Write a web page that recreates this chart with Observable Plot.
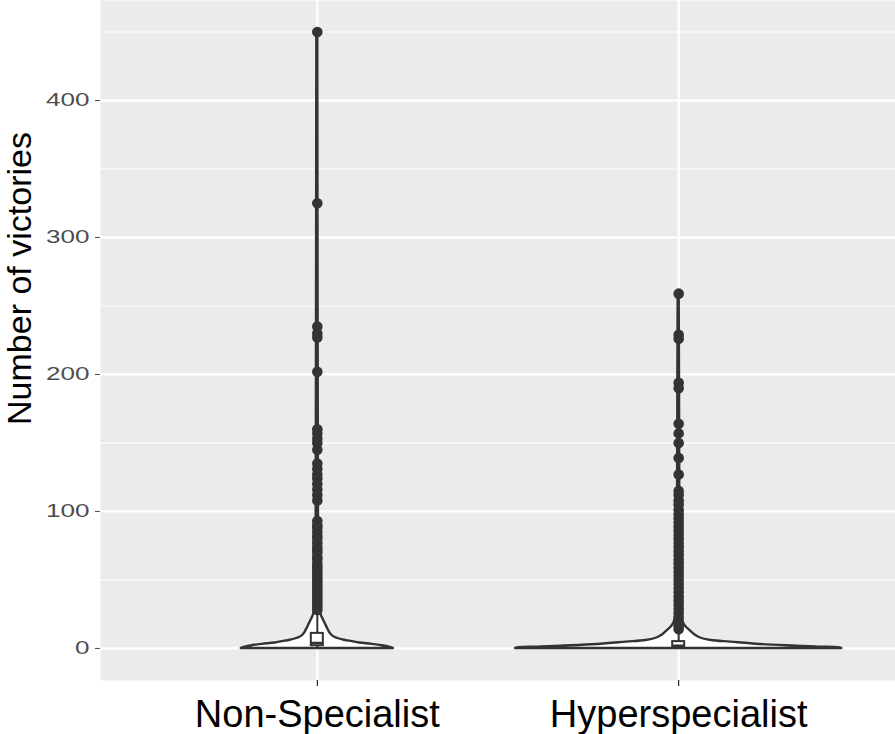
<!DOCTYPE html>
<html><head><meta charset="utf-8">
<script src="https://cdn.jsdelivr.net/npm/d3@7"></script>
<script src="https://cdn.jsdelivr.net/npm/@observablehq/plot@0.6"></script>
<style>body{margin:0;background:#fff}</style>
</head><body><div id="chart"></div>
<script>
const categories = ["Non-Specialist", "Hyperspecialist"];
const yTicks = [0, 100, 200, 300, 400];
const yMinor = [50, 150, 250, 350, 450];
const yTitle = "Number of victories";

// violin outlines (value, relative density)
const nsViolinValue = [0, 1, 2, 3, 4, 5, 6, 8, 10, 12, 15, 18, 21, 24, 28, 35, 50, 100, 200, 300, 450];
const nsViolinDensity = [0.466, 0.442, 0.399, 0.337, 0.258, 0.215, 0.166, 0.110, 0.086, 0.074, 0.061, 0.049, 0.037, 0.025, 0.018, 0.012, 0.009, 0.007, 0.0055, 0.0043, 0.003];
const hsViolinValue = [0, 0.5, 1, 1.7, 2.9, 4.6, 5.8, 7.8, 10, 13, 16, 20, 25, 35, 60, 100, 200, 260];
const hsViolinDensity = [1, 0.98, 0.86, 0.72, 0.5, 0.32, 0.2, 0.13, 0.098, 0.07, 0.043, 0.025, 0.018, 0.012, 0.009, 0.007, 0.005, 0.003];

// boxplot statistics per category
const boxQ1 = [2, 1];
const boxMedian = [4, 2];
const boxQ3 = [11, 5];
const whiskerLow = [0, 0];
const whiskerHigh = [24, 11];

// outliers
const nsOutliers = [450, 325, 235, 230, 227, 202, 160, 157, 153, 150, 145, 135, 131, 127, 124, 120, 116, 112, 108,
  93, 90, 88, 85, 82, 80, 77, 74, 72, 70, 67, 65, 62, 60, 58, 56, 54, 52, 50, 48, 46, 44, 42, 40, 38, 36, 34, 32, 30, 28];
const hsOutliers = [259, 229, 226, 194, 190, 164, 157, 150, 139, 127, 115, 112, 108, 105, 101, 98, 95, 92, 89, 86, 83,
  80, 77, 74, 71, 68, 65, 62, 59, 56, 53, 50, 47, 44, 41, 38, 35, 32, 29, 26, 23, 20, 18, 16, 14];

const violin = [
  ...nsViolinValue.map((v, i) => ({cat: categories[0], pos: 1, value: v, density: nsViolinDensity[i]})),
  ...hsViolinValue.map((v, i) => ({cat: categories[1], pos: 2, value: v, density: hsViolinDensity[i]}))
];
const boxes = categories.map((c, i) => ({cat: c, pos: i + 1, q1: boxQ1[i], median: boxMedian[i], q3: boxQ3[i], lo: whiskerLow[i], hi: whiskerHigh[i]}));
const outliers = [
  ...nsOutliers.map(v => ({cat: categories[0], pos: 1, value: v})),
  ...hsOutliers.map(v => ({cat: categories[1], pos: 2, value: v}))
];

const W = 0.4515;   // half violin width for density 1
const BW = 0.0166;  // half box width
const ink = "#333333";

const plot = Plot.plot({
  width: 895, height: 734,
  marginLeft: 100, marginRight: 0, marginTop: 0, marginBottom: 54,
  style: {fontFamily: "'Liberation Sans', Arial, sans-serif", background: "transparent", overflow: "visible"},
  x: {type: "linear", domain: [0.4, 2.6], axis: null},
  y: {domain: [-23.4, 473], axis: null},
  marks: [
    Plot.frame({fill: "#EBEBEB", stroke: null}),
    Plot.gridY(yMinor, {stroke: "#fff", strokeOpacity: 1, strokeWidth: 1.2}),
    Plot.gridY(yTicks, {stroke: "#fff", strokeOpacity: 1, strokeWidth: 2.3}),
    Plot.gridX([1, 2], {stroke: "#fff", strokeOpacity: 1, strokeWidth: 2.3}),
    Plot.axisY(yTicks, {tickSize: 5, tickPadding: 6, fontSize: 18, color: "#4D4D4D", label: null}),
    Plot.axisX([1, 2], {tickSize: 6, tickPadding: 14, fontSize: 38, color: "#000", tickFormat: d => categories[d - 1], label: null}),
    Plot.areaX(violin, {y: "value", x1: d => d.pos - d.density * W, x2: d => d.pos + d.density * W, z: "cat",
      fill: "white", stroke: ink, strokeWidth: 2.4, curve: "catmull-rom"}),
    Plot.ruleX(boxes, {x: "pos", y1: "q3", y2: "hi", stroke: ink, strokeWidth: 2}),
    Plot.ruleX(boxes, {x: "pos", y1: "lo", y2: "q1", stroke: ink, strokeWidth: 2}),
    Plot.rect(boxes, {x1: d => d.pos - BW, x2: d => d.pos + BW, y1: "q1", y2: "q3", fill: "white", stroke: ink, strokeWidth: 2}),
    Plot.ruleY(boxes, {y: "median", x1: d => d.pos - BW, x2: d => d.pos + BW, stroke: ink, strokeWidth: 2.4}),
    Plot.dot(outliers, {x: "pos", y: "value", r: 5.3, fill: ink, stroke: null})
  ]
});

// stretch y tick labels horizontally like the reference
d3.select(plot).selectAll('g[aria-label="y-axis tick label"] text').each(function() {
  const t = this.textContent;
  this.setAttribute("textLength", t.length * 14.5);
  this.setAttribute("lengthAdjust", "spacingAndGlyphs");
});

d3.select(plot).append("text")
  .attr("transform", "translate(31,278.5) rotate(-90)")
  .attr("text-anchor", "middle")
  .attr("font-size", 34)
  .attr("fill", "#000")
  .text(yTitle);

document.getElementById("chart").appendChild(plot);
</script>
</body></html>
